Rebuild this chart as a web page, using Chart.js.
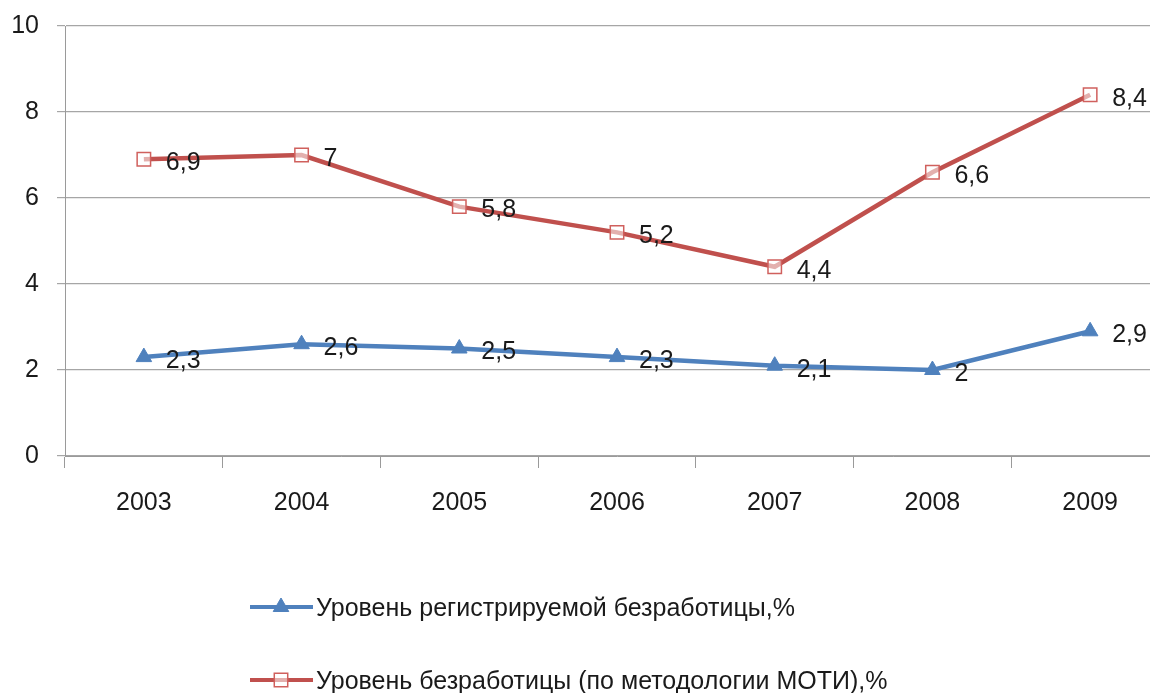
<!DOCTYPE html>
<html>
<head>
<meta charset="utf-8">
<script src="https://cdn.jsdelivr.net/npm/chart.js@4/dist/chart.umd.min.js"></script>
<style>
  html, body { margin: 0; padding: 0; background: #fff; overflow: hidden; }
  #wrap { width: 1180px; height: 693px; }
</style>
</head>
<body>
<div id="wrap"><canvas id="chartCanvas" width="1180" height="693"></canvas></div>
<script>
const years = ['2003', '2004', '2005', '2006', '2007', '2008', '2009'];
const registered = [2.3, 2.6, 2.5, 2.3, 2.1, 2, 2.9];
const ilo = [6.9, 7, 5.8, 5.2, 4.4, 6.6, 8.4];
const seriesNames = ['Уровень регистрируемой безработицы,%', 'Уровень безработицы (по методологии МОТИ),%'];
const yTicks = [0, 2, 4, 6, 8, 10];

const FONT = "'Liberation Sans', Arial, sans-serif";
const FSIZE = 25;
const BLUE = '#4F81BD';
const RED = '#C0504D';

const ctx = document.getElementById('chartCanvas').getContext('2d');

// value labels to the right of each point
const labelsPlugin = {
    id: 'value_labels',
    afterDatasetsDraw: (chart) => {
        const c = chart.ctx;
        c.save();
        c.font = FSIZE + 'px ' + FONT;
        c.fillStyle = '#1a1a1a';
        c.textAlign = 'left';
        c.textBaseline = 'middle';
        chart.data.datasets.forEach((ds, i) => {
            chart.getDatasetMeta(i).data.forEach((pt, j) => {
                const txt = String(ds.data[j]).replace('.', ',');
                c.fillText(txt, pt.x + 22, pt.y + 4);
            });
        });
        c.restore();
    }
};

// legend drawn by hand, two left-aligned rows under the axis
const legendPlugin = {
    id: 'bottom_legend',
    afterDraw: (chart) => {
        const c = chart.ctx;
        const rows = [607, 680];
        c.save();
        chart.data.datasets.forEach((ds, i) => {
            const y = rows[i];
            c.strokeStyle = ds.borderColor;
            c.lineWidth = 4;
            c.beginPath();
            c.moveTo(250, y);
            c.lineTo(313, y);
            c.stroke();
            c.fillStyle = ds.pointBackgroundColor;
            c.strokeStyle = ds.pointBorderColor;
            c.lineWidth = ds.pointBorderWidth;
            Chart.helpers.drawPoint(c, {
                pointStyle: ds.pointStyle,
                radius: ds.pointRadius,
                borderWidth: ds.pointBorderWidth
            }, 281, y);
            c.font = FSIZE + 'px ' + FONT;
            c.fillStyle = '#1a1a1a';
            c.textAlign = 'left';
            c.textBaseline = 'middle';
            c.fillText(seriesNames[i], 316, y + 2);
        });
        c.restore();
    }
};

new Chart(ctx, {
    type: 'line',
    data: {
        labels: years,
        datasets: [
            {
                label: seriesNames[0],
                data: registered,
                borderColor: BLUE,
                borderWidth: 4.5,
                pointStyle: 'triangle',
                pointRadius: 9,
                pointBackgroundColor: BLUE,
                pointBorderColor: BLUE,
                pointBorderWidth: 1,
                tension: 0
            },
            {
                label: seriesNames[1],
                data: ilo,
                borderColor: RED,
                borderWidth: 4.5,
                pointStyle: 'rect',
                pointRadius: 9.5,
                pointBackgroundColor: 'rgba(255,255,255,0.55)',
                pointBorderColor: '#D0605D',
                pointBorderWidth: 1.5,
                tension: 0
            }
        ]
    },
    options: {
        responsive: false,
        animation: false,
        layout: {
            padding: { top: 26, right: 3, bottom: 155, left: 0 }
        },
        plugins: {
            legend: { display: false },
            tooltip: { enabled: false }
        },
        scales: {
            x: {
                offset: true,
                grid: {
                    offset: true,
                    drawOnChartArea: false,
                    drawTicks: true,
                    tickLength: 12,
                    color: '#9a9a9a'
                },
                border: { color: '#9a9a9a', width: 1 },
                ticks: {
                    padding: 20,
                    color: '#1a1a1a',
                    font: { family: FONT, size: FSIZE },
                    maxRotation: 0
                }
            },
            y: {
                min: 0,
                max: 10,
                afterFit: (s) => {
                    s.width = 65;
                    s.paddingTop = 0;
                    s.paddingBottom = 0;
                },
                afterBuildTicks: (s) => { s.ticks = yTicks.map(v => ({ value: v })); },
                grid: {
                    color: '#a6a6a6',
                    tickLength: 8,
                    lineWidth: 1.2
                },
                border: { color: '#9a9a9a', width: 1 },
                ticks: {
                    padding: 18,
                    color: '#1a1a1a',
                    font: { family: FONT, size: FSIZE }
                }
            }
        }
    },
    plugins: [labelsPlugin, legendPlugin]
});
</script>
</body>
</html>
